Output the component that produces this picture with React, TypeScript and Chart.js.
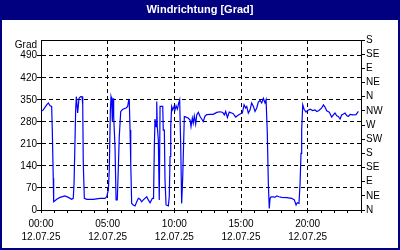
import React, { useEffect, useRef } from 'react';
import { Chart, registerables } from 'chart.js';

Chart.register(...registerables);

const titleText = 'Windrichtung [Grad]';
const unitLabel = 'Grad';
const dateLabel = '12.07.25';
const timeLabels = ['00:00', '05:00', '10:00', '15:00', '20:00'];
const leftTicks = [0, 70, 140, 210, 280, 350, 420, 490];
const compassLabels = ['N', 'NE', 'E', 'SE', 'S', 'SW', 'W', 'NW', 'N', 'NE', 'E', 'SE', 'S'];

// time in hours of day
const hours = [
  0.00, 0.17, 0.43, 0.55, 0.68, 0.80, 0.85, 0.92, 0.95, 1.18, 1.43, 1.80, 2.05, 2.30, 2.42, 2.48,
  2.60, 2.65, 2.75, 2.85, 2.98, 3.08, 3.13, 3.17, 3.25, 3.43, 3.92, 4.43, 4.80, 4.93, 5.05, 5.12,
  5.20, 5.25, 5.30, 5.35, 5.40, 5.45, 5.55, 5.63, 5.72, 5.78, 5.87, 5.98, 6.13, 6.38, 6.50, 6.58,
  6.62, 6.68, 6.73, 6.80, 6.92, 7.05, 7.18, 7.30, 7.43, 7.55, 7.67, 7.93, 8.05, 8.18, 8.35, 8.44,
  8.50, 8.55, 8.63, 8.68, 8.72, 8.80, 8.87, 8.93, 9.00, 9.13, 9.17, 9.25, 9.30, 9.38, 9.55, 9.62,
  9.68, 9.73, 9.80, 9.88, 9.98, 10.05, 10.13, 10.23, 10.33, 10.40, 10.48, 10.55, 10.63, 10.75, 10.88, 11.03,
  11.18, 11.25, 11.35, 11.42, 11.50, 11.60, 11.68, 11.80, 11.93, 12.05, 12.17, 12.30, 12.43, 12.68, 12.92, 13.18,
  13.43, 13.63, 13.75, 13.85, 13.98, 14.12, 14.30, 14.42, 14.60, 14.75, 14.93, 15.10, 15.23, 15.35, 15.43, 15.55,
  15.68, 15.80, 15.93, 16.05, 16.18, 16.30, 16.43, 16.55, 16.68, 16.80, 16.88, 16.97, 17.05, 17.12, 17.18, 17.25,
  17.42, 17.55, 17.68, 17.85, 18.05, 18.43, 18.80, 19.00, 19.13, 19.22, 19.35, 19.43, 19.50, 19.55, 19.63, 19.73,
  19.88, 20.00, 20.18, 20.38, 20.55, 20.68, 20.85, 21.05, 21.18, 21.30, 21.43, 21.62, 21.80, 21.93, 22.05, 22.18,
  22.30, 22.43, 22.55, 22.68, 22.80, 22.93, 23.05, 23.18, 23.40, 23.63, 23.80,
];

// wind direction in degrees
const directions = [
  313, 318, 334, 340, 331, 329, 249, 101, 26, 34, 40, 45, 40, 34, 37, 85,
  318, 360, 308, 355, 360, 360, 334, 150, 37, 34, 34, 37, 37, 42, 64, 127,
  313, 360, 350, 281, 355, 300, 201, 32, 32, 106, 233, 313, 320, 324, 329, 350,
  348, 254, 149, 21, 16, 13, 26, 37, 34, 26, 32, 42, 32, 23, 37, 37,
  201, 289, 265, 345, 265, 223, 32, 329, 329, 329, 254, 254, 95, 16, 13, 42,
  170, 265, 329, 318, 329, 318, 331, 320, 340, 350, 201, 21, 106, 297, 295, 292,
  286, 265, 292, 276, 299, 273, 302, 310, 297, 289, 281, 298, 303, 304, 304, 310,
  312, 310, 302, 313, 294, 311, 308, 306, 295, 300, 305, 308, 334, 324, 329, 308,
  318, 340, 329, 313, 324, 343, 348, 340, 355, 340, 350, 249, 85, 5, 37, 42,
  42, 40, 45, 42, 40, 39, 37, 32, 16, 23, 21, 85, 180, 254, 334, 320,
  311, 316, 320, 316, 318, 313, 316, 324, 334, 327, 315, 311, 295, 302, 308, 299,
  297, 289, 302, 305, 308, 300, 297, 304, 302, 303, 313,
];

const NAVY = '#000080';
const FONT = '"Liberation Sans", Arial, sans-serif';

const framePlugin = {
  id: 'frame',
  beforeDraw(chart: any) {
    const { ctx, width, height } = chart;
    ctx.save();
    ctx.fillStyle = '#ffffff';
    ctx.fillRect(0, 0, width, height);
    ctx.fillStyle = NAVY;
    ctx.fillRect(0, 0, width, 20);
    ctx.fillRect(0, 0, 2, height);
    ctx.fillRect(width - 2, 0, 2, height);
    ctx.fillRect(0, height - 2, width, 2);
    ctx.fillStyle = '#ffffff';
    ctx.font = 'bold 11px ' + FONT;
    ctx.textAlign = 'center';
    ctx.textBaseline = 'middle';
    ctx.fillText(titleText, width / 2, 10);
    ctx.restore();
  },
  afterDraw(chart: any) {
    const { ctx, chartArea } = chart;
    ctx.save();
    ctx.strokeStyle = '#000';
    ctx.lineWidth = 1;
    ctx.beginPath();
    ctx.moveTo(chartArea.left, Math.round(chartArea.top) + 0.5);
    ctx.lineTo(chartArea.right, Math.round(chartArea.top) + 0.5);
    ctx.stroke();
    ctx.fillStyle = '#000';
    ctx.font = '10px ' + FONT;
    ctx.textAlign = 'right';
    ctx.textBaseline = 'middle';
    ctx.fillText(unitLabel, chartArea.left - 4, chartArea.top + 5);
    ctx.restore();
  },
};

export default function App() {
  const ref = useRef<HTMLCanvasElement | null>(null);

  useEffect(() => {
    document.body.style.margin = '0';
    const canvas = ref.current;
    if (!canvas) return;
    Chart.defaults.font.family = FONT;
    Chart.defaults.font.size = 10;
    Chart.defaults.color = '#000';

    const points = hours.map((h, i) => ({ x: h, y: directions[i] }));

    const chart = new Chart(canvas, {
      type: 'line',
      data: {
        datasets: [
          {
            data: points,
            borderColor: '#0000ff',
            borderWidth: 1.2,
            pointRadius: 0,
            tension: 0,
            fill: false,
            xAxisID: 'x',
            yAxisID: 'y',
          },
        ],
      },
      options: {
        animation: false,
        responsive: false,
        maintainAspectRatio: false,
        layout: { padding: { top: 40, left: 0, right: 0, bottom: 0 } },
        plugins: { legend: { display: false }, tooltip: { enabled: false }, title: { display: false } },
        scales: {
          x: {
            type: 'linear',
            position: 'bottom',
            min: 0,
            max: 24,
            afterFit: (s: any) => { s.height = 40; },
            ticks: {
              stepSize: 1,
              autoSkip: false,
              maxRotation: 0,
              padding: 4,
              font: { size: 10, lineHeight: 1.35 },
              callback: (v: any) => {
                const n = Number(v);
                return n % 5 === 0 && n < 24 ? [timeLabels[n / 5], dateLabel] : '';
              },
            },
            grid: {
              color: (c: any) => {
                const n = c.tick ? c.tick.value : -1;
                return n > 0 && n < 24 && n % 5 === 0 ? '#000' : 'rgba(0,0,0,0)';
              },
              tickColor: '#000',
              tickLength: 3,
              lineWidth: 1,
            },
            border: { display: true, color: '#000', width: 1, dash: [4, 3] },
          },
          y: {
            type: 'linear',
            position: 'left',
            min: 0,
            max: 540,
            afterFit: (s: any) => { s.width = 41; },
            afterBuildTicks: (s: any) => { s.ticks = leftTicks.map((v) => ({ value: v })); },
            ticks: { padding: 0, autoSkip: false, font: { size: 10 } },
            grid: {
              color: (c: any) => (c.tick && c.tick.value > 0 ? '#000' : 'rgba(0,0,0,0)'),
              tickColor: '#000',
              tickLength: 4,
              lineWidth: 1,
            },
            border: { display: true, color: '#000', width: 1, dash: [4, 3] },
          },
          y2: {
            type: 'linear',
            position: 'right',
            min: 0,
            max: 540,
            afterFit: (s: any) => { s.width = 39; },
            ticks: {
              stepSize: 45,
              padding: 1,
              autoSkip: false,
              font: { size: 10 },
              callback: (v: any) => compassLabels[Math.round(Number(v) / 45)] ?? '',
            },
            grid: { drawOnChartArea: false, tickColor: '#000', tickLength: 4 },
            border: { display: true, color: '#000', width: 1 },
          },
        },
      },
      plugins: [framePlugin],
    });
    return () => chart.destroy();
  }, []);

  return <canvas ref={ref} width={400} height={250} style={{ display: 'block', width: 400, height: 250 }} />;
}
